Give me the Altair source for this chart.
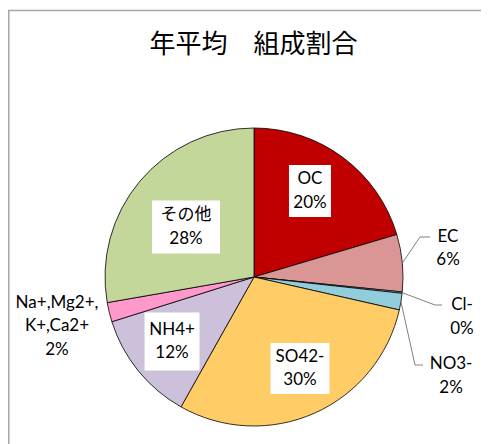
import math
import altair as alt
import pandas as pd

# ---- data ----
TITLE = "年平均　組成割合"
names = ["OC", "EC", "Cl-", "NO3-", "SO42-", "NH4+", "Na+,Mg2+,K+,Ca2+", "その他"]
values = [20.4, 6.2, 0.15, 1.8, 29.6, 12.0, 2.1, 27.75]
name_text = ["OC", "EC", "Cl-", "NO3-", "SO42-", "NH4+", "Na+,Mg2+,\nK+,Ca2+", "その他"]
pct_text = ["20%", "6%", "0%", "2%", "30%", "12%", "2%", "28%"]
colors = ["#C00000", "#DA9694", "#B7DEE8", "#92CDDC", "#FFCC66", "#CCC0DA", "#FF99CC", "#C4D79B"]

# ---- layout / style ----
W, H = 473, 436
CX, CY, R = 246, 269, 149
LINE_H = 23.5
label_r = [102.6, 196.1, 211.8, 220.5, 102.4, 104.3, 203.0, 84.4]
label_shift = [-3.65, -2.96, 4.86, 17.14, -2.75, 0.87, -0.29, -3.72]  # degrees
box_w = [42, 0, 0, 0, 59, 55, 0, 68]
box_h = [52, 0, 0, 0, 51, 58, 0, 53]
leader_offsets = {
    "EC": [(166, -40), (176, -40)],
    "Cl-": [(181, 28), (188, 28)],
    "NO3-": [(161, 88), (169, 88)],
}
FONT = "Lato, Noto Sans CJK JP"

df = pd.DataFrame({
    "idx": list(range(len(names))),
    "name": names,
    "value": values,
    "label": [a + "\n" + b for a, b in zip(name_text, pct_text)],
    "lr": label_r,
    "shift": label_shift,
    "bw": box_w,
    "bh": box_h,
})

# leader lines: start on the pie edge at the slice's mid-angle
total = sum(values)
rows = []
cum = 0.0
for n, v in zip(names, values):
    mid = (cum + v / 2) / total * 2 * math.pi
    cum += v
    if n in leader_offsets:
        rows.append({"name": n, "seq": 0, "px": CX + R * math.sin(mid), "py": CY - R * math.cos(mid)})
        for k, (dx, dy) in enumerate(leader_offsets[n]):
            rows.append({"name": n, "seq": k + 1, "px": CX + dx, "py": CY + dy})
leaders_df = pd.DataFrame(rows)

one = pd.DataFrame({"t": [TITLE]})

frame_base = alt.Chart(one).mark_rule(color="#a6a6a6", strokeWidth=1.5)
frame_top = frame_base.encode(x=alt.value(0), x2=alt.value(W + 10), y=alt.value(2.5))
frame_left = frame_base.encode(x=alt.value(0.75), y=alt.value(2), y2=alt.value(H + 10))

pie = alt.Chart(df).mark_arc(radius=R, stroke="black", strokeWidth=0.8).encode(
    theta=alt.Theta("value:Q", stack=True),
    color=alt.Color("name:N", scale=alt.Scale(domain=names, range=colors), legend=None),
    order=alt.Order("idx:Q"),
    x=alt.value(CX),
    y=alt.value(CY),
)

lab_base = alt.Chart(df).transform_window(
    cum="sum(value)", sort=[alt.SortField("idx", order="ascending")], frame=[None, 0]
).transform_joinaggregate(
    total="sum(value)"
).transform_calculate(
    ang="(datum.cum - datum.value/2)/datum.total*2*PI + datum.shift*PI/180",
    nl="split(datum.label, '\\n').length",
).transform_calculate(
    lx=f"{CX} + datum.lr*sin(datum.ang)",
    ly=f"{CY} - datum.lr*cos(datum.ang)",
).transform_calculate(
    ty=f"datum.ly - (datum.nl - 1)*{LINE_H}/2",
    bx="datum.lx - datum.bw/2",
    bx2="datum.lx + datum.bw/2",
    by="datum.ly - datum.bh/2",
    by2="datum.ly + datum.bh/2",
)

boxes = lab_base.transform_filter("datum.bw > 0").mark_rect(color="white").encode(
    x=alt.X("bx:Q", scale=None, axis=None),
    x2="bx2:Q",
    y=alt.Y("by:Q", scale=None, axis=None),
    y2="by2:Q",
)

labels = lab_base.mark_text(
    lineBreak="\n", fontSize=17, font=FONT, baseline="middle", align="center",
    lineHeight=LINE_H, color="black",
).encode(
    x=alt.X("lx:Q", scale=None, axis=None),
    y=alt.Y("ty:Q", scale=None, axis=None),
    text="label:N",
)

leaders = alt.Chart(leaders_df).mark_line(color="#808080", strokeWidth=1).encode(
    x=alt.X("px:Q", scale=None, axis=None),
    y=alt.Y("py:Q", scale=None, axis=None),
    detail="name:N",
    order="seq:Q",
)

title = alt.Chart(one).mark_text(
    fontSize=26, font="Noto Sans CJK JP", color="black", baseline="middle", align="center"
).encode(x=alt.value(245.5), y=alt.value(37), text="t:N")

chart = alt.layer(frame_top, frame_left, pie, boxes, leaders, labels, title).properties(
    width=W, height=H, autosize=alt.AutoSizeParams(type="none"), padding=0
).configure_view(stroke=None)

chart.save("out.html", embed_options={"renderer": "svg", "actions": False})
